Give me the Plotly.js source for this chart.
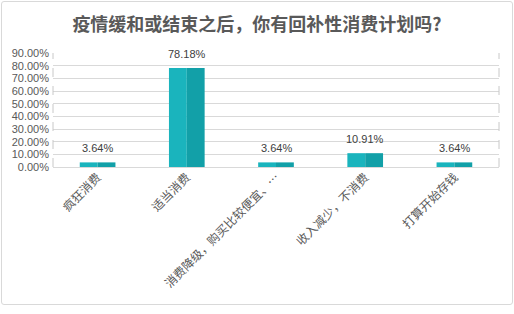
<!DOCTYPE html>
<html>
<head>
<meta charset="utf-8">
<script src="https://cdn.plot.ly/plotly-3.0.1.min.js"></script>
<style>
html,body{margin:0;padding:0;background:#fff;}
#wrap{position:relative;width:514px;height:314px;}
#chart{position:absolute;left:0;top:0;width:514px;height:314px;}
#frame{position:absolute;left:1px;top:1px;width:510px;height:302px;border:1px solid #d9d9d9;border-radius:3px;pointer-events:none;}
</style>
</head>
<body>
<div id="wrap"><div id="chart"></div><div id="frame"></div></div>
<script>
const categories = ["疯狂消费", "适当消费", "消费降级，购买比较便宜、…", "收入减少，不消费", "打算开始存钱"];
const values = [0.0364, 0.7818, 0.0364, 0.1091, 0.0364];
const valueLabels = ["3.64%", "78.18%", "3.64%", "10.91%", "3.64%"];
const yTicks = [0, 0.1, 0.2, 0.3, 0.4, 0.5, 0.6, 0.7, 0.8, 0.9];

const traces = [
  {type:'bar', x:categories, y:values, width:0.2, offset:-0.2, marker:{color:'#1AB4BD'}, hoverinfo:'skip'},
  {type:'bar', x:categories, y:values, width:0.2, offset:0, marker:{color:'#12A0A8'}, hoverinfo:'skip'}
];

const annotations = categories.map((c,i)=>({
  x:c, y:values[i], xref:'x', yref:'y', text:valueLabels[i], showarrow:false,
  yanchor:'bottom', yshift:6, font:{family:'Liberation Sans, Arial, sans-serif', size:11, color:'#404040'}
}));

const layout = {
  width:514, height:314,
  margin:{l:53, r:15, t:53, b:147},
  paper_bgcolor:'rgba(0,0,0,0)', plot_bgcolor:'#fff',
  showlegend:false, barmode:'overlay',
  title:{text:'疫情缓和或结束之后，你有回补性消费计划吗?', x:0.5, xanchor:'center', y:0.92, yanchor:'middle',
    font:{family:'Noto Sans CJK SC, sans-serif', size:18, color:'#595959', weight:'bold'}},
  xaxis:{type:'category', tickangle:-45, showgrid:false, showline:false, zeroline:false, ticks:'',
    tickfont:{family:'Noto Sans CJK SC, sans-serif', size:12, color:'#595959'}},
  yaxis:{range:[0,0.9], tickvals:yTicks, tickformat:'.2%', showgrid:true, gridcolor:'#d9d9d9', gridwidth:1,
    zeroline:true, zerolinecolor:'#d9d9d9', showline:false, ticks:'', ticklabelstandoff:3,
    tickfont:{family:'Liberation Sans, Arial, sans-serif', size:11, color:'#595959'}},
  shapes:[
    {type:'line', xref:'paper', yref:'paper', x0:0, x1:0, y0:0, y1:1, line:{color:'#c8c8c8', width:1, dash:'dash'}},
    {type:'line', xref:'paper', yref:'paper', x0:1, x1:1, y0:0, y1:1, line:{color:'#c8c8c8', width:1, dash:'dash'}}
  ],
  annotations:annotations
};

Plotly.newPlot('chart', traces, layout, {displayModeBar:false, staticPlot:true});
</script>
</body>
</html>
